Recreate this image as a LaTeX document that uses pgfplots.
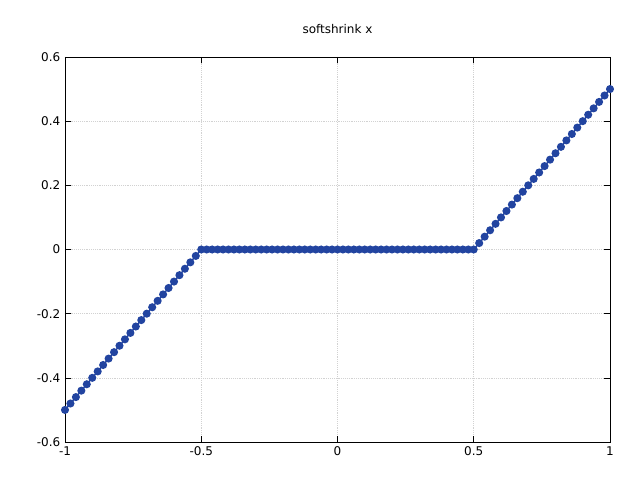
\documentclass[border=0pt]{standalone}
\usepackage{pgfplots}
\pgfplotsset{compat=1.18}
\usepackage{fontspec}
\setmainfont{DejaVu Sans}
\definecolor{ser}{HTML}{2244A0}
\begin{document}
\begin{tikzpicture}
\useasboundingbox (-48.75pt,-28.5pt) rectangle (431.25pt,331.5pt);
\begin{axis}[
  scale only axis, width=408.75pt, height=288.75pt,
  xmin=-1, xmax=1, ymin=-0.6, ymax=0.6,
  xtick={-1,-0.5,0,0.5,1}, ytick={-0.6,-0.4,-0.2,0,0.2,0.4,0.6},
  xticklabels={-1,-0.5,0,0.5,1},
  yticklabels={-0.6,-0.4,-0.2,0,0.2,0.4,0.6},
  tick align=inside, major tick length=4.5pt,
  xtick pos=both, ytick pos=both,
  grid=major, grid style={densely dotted, gray!35},
  axis line style={black, line width=0.5pt},
  tick style={black, line width=0.5pt},
  ticklabel style={font=\fontsize{9}{11}\selectfont},
  title={softshrink x}, title style={font=\fontsize{9}{11}\selectfont, yshift=8pt},
  clip=false,
]
\addplot[color=ser, line width=1pt, mark=*, mark size=2.5pt, mark options={fill=ser}] coordinates {
(-1,-0.5) (-0.98,-0.48) (-0.96,-0.46) (-0.94,-0.44) (-0.92,-0.42) (-0.9,-0.4) (-0.88,-0.38) (-0.86,-0.36) (-0.84,-0.34) (-0.82,-0.32) (-0.8,-0.3) (-0.78,-0.28) (-0.76,-0.26) (-0.74,-0.24) (-0.72,-0.22) (-0.7,-0.2) (-0.68,-0.18) (-0.66,-0.16) (-0.64,-0.14) (-0.62,-0.12) (-0.6,-0.1) (-0.58,-0.08) (-0.56,-0.06) (-0.54,-0.04) (-0.52,-0.02)
(-0.5,0) (-0.48,0) (-0.46,0) (-0.44,0) (-0.42,0) (-0.4,0) (-0.38,0) (-0.36,0) (-0.34,0) (-0.32,0) (-0.3,0) (-0.28,0) (-0.26,0) (-0.24,0) (-0.22,0) (-0.2,0) (-0.18,0) (-0.16,0) (-0.14,0) (-0.12,0) (-0.1,0) (-0.08,0) (-0.06,0) (-0.04,0) (-0.02,0)
(0,0) (0.02,0) (0.04,0) (0.06,0) (0.08,0) (0.1,0) (0.12,0) (0.14,0) (0.16,0) (0.18,0) (0.2,0) (0.22,0) (0.24,0) (0.26,0) (0.28,0) (0.3,0) (0.32,0) (0.34,0) (0.36,0) (0.38,0) (0.4,0) (0.42,0) (0.44,0) (0.46,0) (0.48,0) (0.5,0)
(0.52,0.02) (0.54,0.04) (0.56,0.06) (0.58,0.08) (0.6,0.1) (0.62,0.12) (0.64,0.14) (0.66,0.16) (0.68,0.18) (0.7,0.2) (0.72,0.22) (0.74,0.24) (0.76,0.26) (0.78,0.28) (0.8,0.3) (0.82,0.32) (0.84,0.34) (0.86,0.36) (0.88,0.38) (0.9,0.4) (0.92,0.42) (0.94,0.44) (0.96,0.46) (0.98,0.48) (1,0.5)
};
\end{axis}
\end{tikzpicture}
\end{document}
